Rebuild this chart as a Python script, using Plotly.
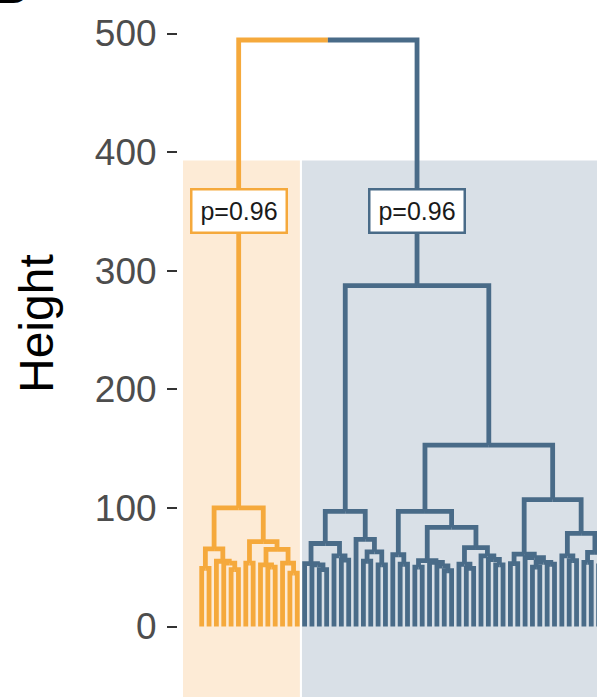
import plotly.graph_objects as go

# ---- data: hclust-style merge table (negative = leaf by left-to-right position, positive = earlier merge row, 1-based)
merge_left = [-1, -5, -4, -3, 1, -7, -10, -9, -13, -12, 8, 6, 5,
              -17, -16, -15, -20, -19, 16, -23, -25, 20, -22, 19,
              -28, -27, -30, -34, -33, -32, 27, -37, -36, -41, -40, -39, 33, 31, 26,
              -43, -46, -48, 41, -45, 40, -51, -50, -53, -55, 48, 47, 45, 39, 24, 13]
merge_right = [-2, -6, 2, 3, 4, -8, -11, 7, -14, 9, 10, 11, 12,
               -18, 14, 15, -21, 17, 18, -24, -26, 21, 22, 23,
               -29, 25, -31, -35, 28, 29, 30, -38, 32, -42, 34, 35, 36, 37, 38,
               -44, -47, -49, 42, 43, 44, -52, 46, -54, -56, 49, 50, 51, 52, 53, 54]
merge_height = [49, 48, 53.5, 55, 65.5, 53.5, 50, 52, 45, 53.5, 65, 71.5, 100,
                48, 52, 53, 56, 59.5, 70, 55, 52, 63, 73.5, 97,
                52.5, 60.5, 50, 47, 51, 54, 55.5, 49, 52.5, 52, 56.5, 59.5, 66.5, 83.5, 97,
                53, 50, 52.5, 54, 58, 61, 55.5, 59.5, 54, 51, 62.5, 78.5, 107, 153, 287.5, 494.5]

cluster_first_leaf = [1, 15]
cluster_last_leaf = [14, 56]
cluster_root_row = [13, 54]
cluster_pvalue = ["p=0.96", "p=0.96"]

y_ticks = [0, 100, 200, 300, 400, 500]
y_title = "Height"
panel_letter = "B"

# ---- styles
line_colors = ["#F5A93C", "#496B88"]
band_colors = ["#FDEBD6", "#D9E0E7"]
band_top = 393
label_height = 350

def leaf_cluster(i):
    for c, (a, b) in enumerate(zip(cluster_first_leaf, cluster_last_leaf)):
        if a <= i <= b:
            return c
    return None

node_x, node_c = [], []

def info(idx):
    if idx < 0:
        return -idx, 0.0, leaf_cluster(-idx)
    return node_x[idx - 1], merge_height[idx - 1], node_c[idx - 1]

for l, r in zip(merge_left, merge_right):
    xl, _, cl = info(l)
    xr, _, cr = info(r)
    node_x.append((xl + xr) / 2)
    node_c.append(cl if cl == cr else None)

seg_x = [[], []]
seg_y = [[], []]
for k, (l, r) in enumerate(zip(merge_left, merge_right)):
    xp, hp = node_x[k], merge_height[k]
    for ch in (l, r):
        xc, hc, cc = info(ch)
        seg_x[cc] += [xp, xc, xc, None]
        seg_y[cc] += [hp, hp, hc, None]

fig = go.Figure()
for c in range(2):
    fig.add_trace(go.Scatter(x=seg_x[c], y=seg_y[c], mode="lines",
                             line=dict(color=line_colors[c], width=4.8),
                             hoverinfo="skip", showlegend=False))

# page geometry (body margin removed in the page, see post_script)
W, H = 597, 697
PL = 178                      # x of plot-area left edge
PW, PH = W - PL, H

def paper_x(px):
    return (px - PL) / PW

def paper_y(py):
    return 1 - py / PH

px_per_unit = 1.186
y_zero_px = 626.5
ymin = -(H - y_zero_px) / px_per_unit
ymax = y_zero_px / px_per_unit
leaf_px = 7.35
first_leaf_px = 201.7
x0 = 1 - (first_leaf_px - PL) / leaf_px
x1 = x0 + PW / leaf_px

gap = 0.14
shapes = [
    dict(type="rect", xref="x", yref="y", x0=x0 + 5 / leaf_px, x1=cluster_last_leaf[0] + 0.5 - gap,
         y0=-200, y1=band_top, fillcolor=band_colors[0], line=dict(width=0), layer="below"),
    dict(type="rect", xref="x", yref="y", x0=cluster_first_leaf[1] - 0.5 + gap, x1=80,
         y0=-200, y1=band_top, fillcolor=band_colors[1], line=dict(width=0), layer="below"),
]

annotations = []
for c in range(2):
    row = cluster_root_row[c] - 1
    annotations.append(dict(x=node_x[row], y=label_height, xref="x", yref="y",
                            text=cluster_pvalue[c], showarrow=False,
                            font=dict(family="Liberation Sans, Arial", size=25, color="#1A1A1A"),
                            bgcolor="white", bordercolor=line_colors[c], borderwidth=2.5,
                            borderpad=2, width=89, height=37, xanchor="center", yanchor="middle"))

annotations.append(dict(x=paper_x(36), y=paper_y(324), xref="paper", yref="paper",
                        text=y_title, textangle=-90, showarrow=False,
                        font=dict(family="Liberation Sans, Arial", size=48, color="black"),
                        xanchor="center", yanchor="middle"))
annotations.append(dict(x=paper_x(30), y=paper_y(15), xref="paper", yref="paper",
                        text="<b>" + panel_letter + "</b>", showarrow=False,
                        font=dict(family="Liberation Sans, Arial", size=48, color="black"),
                        xanchor="right", yanchor="bottom"))

fig.update_layout(
    width=W, height=H,
    margin=dict(l=PL, r=0, t=0, b=0),
    plot_bgcolor="white", paper_bgcolor="white",
    shapes=shapes, annotations=annotations,
    xaxis=dict(visible=False, range=[x0, x1]),
    yaxis=dict(range=[ymin, ymax], tickvals=y_ticks, ticks="outside", ticklen=10,
               tickwidth=2, tickcolor="#333333", showgrid=False, zeroline=False,
               showline=False, ticklabelstandoff=3,
               tickfont=dict(family="Liberation Sans, Arial", size=37, color="#4D4D4D")),
)

fig.write_html("out.html", config={"displayModeBar": False},
               post_script="document.body.style.margin='0';"
                           "document.body.style.overflow='hidden';"
                           "document.documentElement.style.overflow='hidden';")
